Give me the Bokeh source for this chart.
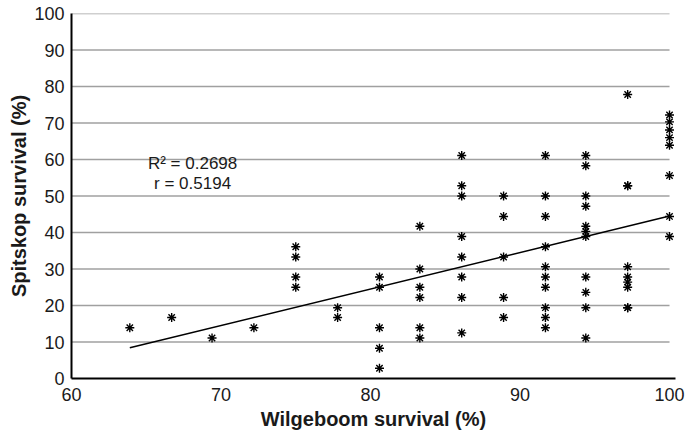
from bokeh.plotting import figure
from bokeh.models import Range1d, FixedTicker, ColumnDataSource
from bokeh.core.properties import value
from bokeh.embed import file_html
from bokeh.resources import INLINE

# Wilgeboom survival (%) columns and Spitskop survival (%) values
wilgeboom = (
    [63.9] + [66.7] + [69.4] + [72.2]
    + [75.0] * 4 + [77.8] * 2 + [80.6] * 5 + [83.3] * 6 + [86.1] * 8
    + [88.9] * 5 + [91.7] * 10 + [94.4] * 11 + [97.2] * 9 + [100.0] * 8
)
spitskop = (
    [13.9] + [16.7] + [11.1] + [13.9]
    + [36.1, 33.3, 27.8, 25.0]
    + [19.4, 16.7]
    + [27.8, 25.0, 13.9, 8.3, 2.8]
    + [41.7, 30.0, 25.0, 22.2, 13.9, 11.1]
    + [61.1, 52.8, 50.0, 38.9, 33.3, 27.8, 22.2, 12.5]
    + [50.0, 44.4, 33.3, 22.2, 16.7]
    + [61.1, 50.0, 44.4, 36.1, 30.6, 27.8, 25.0, 19.4, 16.7, 13.9]
    + [61.1, 58.3, 50.0, 47.2, 41.7, 40.3, 38.9, 27.8, 23.6, 19.4, 11.1]
    + [77.8, 52.8, 52.8, 30.6, 27.8, 26.4, 25.0, 19.4, 19.4]
    + [72.2, 70.3, 68.1, 66.0, 63.9, 55.6, 44.4, 38.9]
)

trend_x = [63.9, 100.0]
trend_y = [8.4, 44.5]

x_ticks = [60, 70, 80, 90, 100]
y_ticks = [0, 10, 20, 30, 40, 50, 60, 70, 80, 90, 100]
grid_levels = [10, 20, 30, 40, 50, 60, 70, 80, 90, 100]

stats_lines = ["R² = 0.2698", "r = 0.5194"]
stats_x = [68.1, 68.1]
stats_y = [58.9, 53.4]

FONT = "Liberation Sans"

p = figure(
    width=685, height=438,
    x_range=Range1d(60, 100.4), y_range=Range1d(0, 100),
    output_backend="svg", toolbar_location=None,
    min_border_left=71, min_border_right=10, min_border_top=13, min_border_bottom=60,
)
p.outline_line_color = None
p.xgrid.grid_line_color = None
p.ygrid.grid_line_color = None
p.background_fill_color = "white"
p.border_fill_color = "white"

# horizontal gridlines from 60 to 100
p.segment(x0=[60] * len(grid_levels), x1=[100] * len(grid_levels),
          y0=grid_levels, y1=grid_levels, line_color="#a0a0a0", line_width=1.5)

# trend line
p.line(trend_x, trend_y, line_color="black", line_width=1.5)

# points
src = ColumnDataSource(dict(x=wilgeboom, y=spitskop))
p.scatter("x", "y", source=src, marker="asterisk", size=9,
          line_color="black", line_width=1.4)

# stats text
p.text(x=stats_x, y=stats_y, text=stats_lines, text_font=value(FONT),
       text_font_size="17px", text_align="center", text_baseline="middle",
       text_color="#1a1a1a")

for ax in (p.xaxis[0], p.yaxis[0]):
    ax.axis_line_color = "black"
    ax.axis_line_width = 2
    ax.major_tick_line_color = None
    ax.minor_tick_line_color = None
    ax.major_tick_out = 0
    ax.major_tick_in = 0
    ax.minor_tick_out = 0
    ax.major_label_text_font = FONT
    ax.major_label_text_font_size = "18px"
    ax.major_label_text_color = "#1a1a1a"
    ax.axis_label_text_font = FONT
    ax.axis_label_text_font_size = "20px"
    ax.axis_label_text_font_style = "bold"
    ax.axis_label_text_color = "#1a1a1a"

p.xaxis.ticker = FixedTicker(ticks=x_ticks)
p.yaxis.ticker = FixedTicker(ticks=y_ticks)
p.xaxis.axis_label = "Wilgeboom survival (%)"
p.yaxis.axis_label = "Spitskop survival (%)"
p.xaxis.major_label_standoff = 9
p.yaxis.major_label_standoff = 7
p.xaxis.axis_label_standoff = 4
p.yaxis.axis_label_standoff = 1

open("out.html", "w").write(file_html(p, INLINE))
